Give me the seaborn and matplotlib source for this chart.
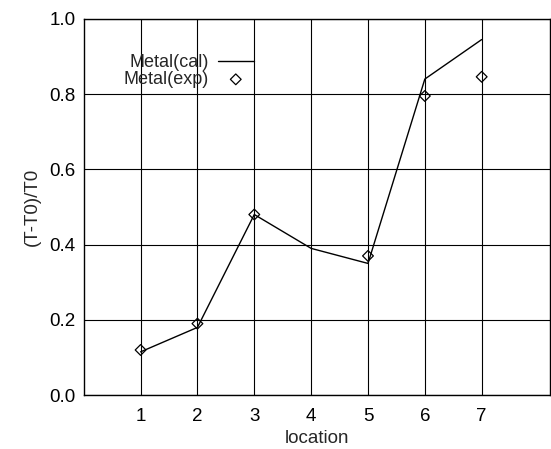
import matplotlib
matplotlib.use("Agg")
import matplotlib.pyplot as plt
import numpy as np
import pandas as pd
import seaborn as sns

# calculated curve
cal_loc = [1, 2, 3, 4, 5, 6, 7]
cal_val = [0.115, 0.18, 0.48, 0.39, 0.35, 0.84, 0.945]

# measured points (no measurement at location 4)
exp_loc = [1, 2, 3, 5, 6, 7]
exp_val = [0.12, 0.19, 0.48, 0.37, 0.795, 0.846]

x_ticks = [1, 2, 3, 4, 5, 6, 7]
y_ticks = [0.0, 0.2, 0.4, 0.6, 0.8, 1.0]

sns.set_style("white")
plt.rcParams['font.family'] = ['Liberation Sans', 'DejaVu Sans']

cal = pd.DataFrame({'location': cal_loc, 'value': cal_val})
exp = pd.DataFrame({'location': exp_loc, 'value': exp_val})

fig = plt.figure(figsize=(5.51, 4.49), dpi=100)
ax = fig.add_axes([0.152, 0.120, 0.846, 0.838])

sns.lineplot(data=cal, x='location', y='value', color='black', linewidth=1.0,
             label='Metal(cal)', ax=ax)
sns.scatterplot(data=exp, x='location', y='value', marker='D', s=30,
                facecolors='none', edgecolor='black', linewidth=0.9,
                label='Metal(exp)', ax=ax)

ax.set_xlim(0, 8.2)
ax.set_ylim(0, 1.0)
ax.set_xticks(x_ticks)
ax.set_yticks(y_ticks)
ax.set_yticklabels([f"{v:.1f}" for v in y_ticks])
ax.grid(True, color='black', linewidth=0.8)
ax.set_axisbelow(True)
ax.tick_params(length=0, labelsize=13.5, colors='black')
ax.tick_params(axis='x', pad=9)
ax.tick_params(axis='y', pad=6)
for s in ax.spines.values():
    s.set_color('black')
    s.set_linewidth(1.0)

ax.set_xlabel('location', fontsize=13.5, labelpad=4)
ax.set_ylabel('(T-T0)/T0', fontsize=13.5, labelpad=6)

leg = ax.legend(loc='upper left', bbox_to_anchor=(0.058, 0.94), frameon=False,
                markerfirst=False, fontsize=13, handlelength=2.0,
                labelspacing=0.0, handletextpad=0.5, borderpad=0.2)

fig.savefig('out.png', dpi=100)
